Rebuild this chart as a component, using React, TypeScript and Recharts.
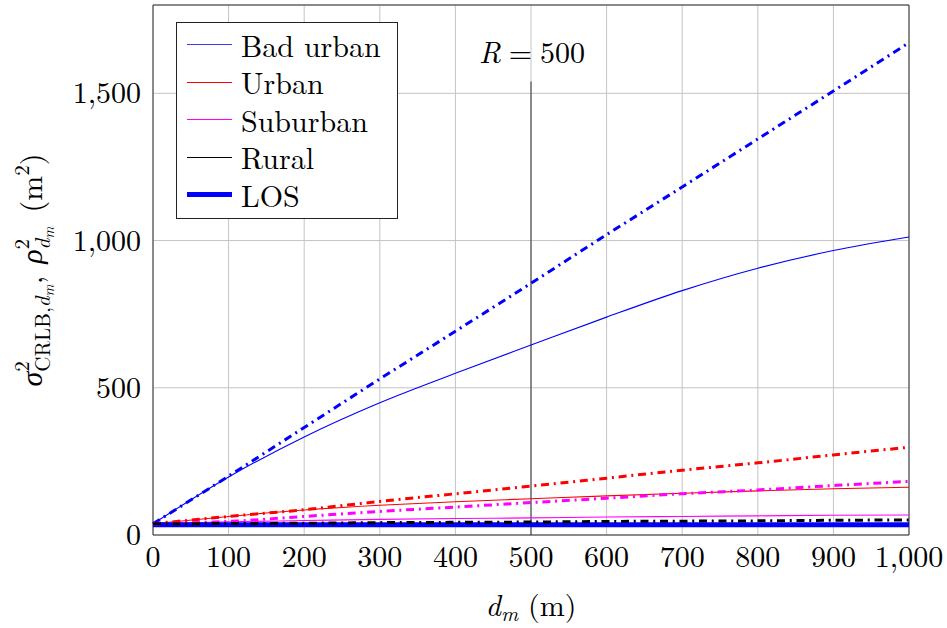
import React from 'react';
import {
  LineChart,
  Line,
  XAxis,
  YAxis,
  CartesianGrid,
  ReferenceLine,
  ReferenceArea,
  ReferenceDot,
  Legend,
} from 'recharts';

const FONT = 'Latin Modern Roman';

// distance d_m (m)
const DISTANCES = [0, 100, 200, 300, 400, 500, 600, 700, 800, 900, 1000];

// solid lines: sigma^2 CRLB
const BAD_URBAN_CRLB = [38, 197, 333, 449, 549, 645, 740, 830, 906, 966, 1012];
const URBAN_CRLB = [38, 63, 85, 101, 113, 123, 133, 142, 150, 157, 162];
const SUBURBAN_CRLB = [38, 45, 49, 53, 56, 58, 61, 63, 65, 67, 68];
const RURAL_CRLB = [36, 36, 37, 37, 37, 37, 37, 38, 38, 38, 38];
const LOS_CRLB = [35, 35, 35, 35, 35, 35, 35, 35, 35, 35, 35];

// dash-dotted lines: rho^2
const BAD_URBAN_RHO = [38, 200, 365, 530, 692, 855, 1020, 1182, 1345, 1508, 1672];
const URBAN_RHO = [38, 63, 86, 114, 140, 166, 193, 220, 245, 272, 298];
const SUBURBAN_RHO = [38, 46, 63, 80, 95, 110, 125, 140, 153, 168, 182];
const RURAL_RHO = [38, 39, 40, 42, 43, 44, 46, 47, 48, 50, 51];

const X_TICKS = [0, 100, 200, 300, 400, 500, 600, 700, 800, 900, 1000];
const Y_TICKS = [0, 500, 1000, 1500];
const LEGEND_LABELS = ['Bad urban', 'Urban', 'Suburban', 'Rural', 'LOS'];
const R_VALUE = 500;

const data = DISTANCES.map((d, i) => ({
  d,
  badUrban: BAD_URBAN_CRLB[i],
  urban: URBAN_CRLB[i],
  suburban: SUBURBAN_CRLB[i],
  rural: RURAL_CRLB[i],
  los: LOS_CRLB[i],
  badUrbanRho: BAD_URBAN_RHO[i],
  urbanRho: URBAN_RHO[i],
  suburbanRho: SUBURBAN_RHO[i],
  ruralRho: RURAL_RHO[i],
}));

const DASHDOT = '8 4.75 2 4.75';

const SERIES = [
  { key: 'badUrban', color: '#0000ff', width: 1.1, dash: undefined },
  { key: 'urban', color: '#ff0000', width: 1.1, dash: undefined },
  { key: 'suburban', color: '#ff00ff', width: 1.1, dash: undefined },
  { key: 'rural', color: '#000000', width: 1.1, dash: undefined },
  { key: 'los', color: '#0000ff', width: 5, dash: undefined },
  { key: 'badUrbanRho', color: '#0000ff', width: 3, dash: DASHDOT },
  { key: 'urbanRho', color: '#ff0000', width: 3, dash: DASHDOT },
  { key: 'suburbanRho', color: '#ff00ff', width: 3, dash: DASHDOT },
  { key: 'ruralRho', color: '#000000', width: 3, dash: DASHDOT },
];

const fmt = (v: number) => v.toLocaleString('en-US');

const XTick = (props: any) => {
  const { x, y, payload } = props;
  return (
    <text x={x} y={y + 32} textAnchor="middle" fontFamily={FONT} fontSize={30} fill="#000">
      {fmt(payload.value)}
    </text>
  );
};

const YTick = (props: any) => {
  const { x, y, payload } = props;
  return (
    <text x={x - 12} y={y + 10} textAnchor="end" fontFamily={FONT} fontSize={30} fill="#000">
      {fmt(payload.value)}
    </text>
  );
};

const XLabel = (props: any) => {
  const vb = props.viewBox || { x: 153, y: 535, width: 756, height: 93 };
  const cx = vb.x + vb.width / 2;
  const cy = vb.y + 81;
  return (
    <text x={cx} y={cy} textAnchor="middle" fontFamily={FONT} fontSize={30} fill="#000">
      <tspan fontStyle="italic">d</tspan>
      <tspan fontStyle="italic" fontSize={21} dy={5}>m</tspan>
      <tspan dy={-5} dx={10}>(m)</tspan>
    </text>
  );
};

const YLabel = (props: any) => {
  const vb = props.viewBox || { x: 0, y: 5, width: 153, height: 530 };
  const cx = vb.x + 42;
  const cy = vb.y + vb.height / 2;
  return (
    <text
      x={cx}
      y={cy}
      transform={`rotate(-90 ${cx} ${cy})`}
      textAnchor="middle"
      fontFamily={FONT}
      fontSize={30}
      fill="#000"
    >
      <tspan fontStyle="italic">σ</tspan>
      <tspan fontSize={21} dy={-13}>2</tspan>
      <tspan fontSize={21} dx={-10.5} dy={21}>CRLB,</tspan>
      <tspan fontSize={21} fontStyle="italic">d</tspan>
      <tspan fontSize={15} fontStyle="italic" dy={4}>m</tspan>
      <tspan dy={-12}>,</tspan>
      <tspan fontStyle="italic" dx={12}>ρ</tspan>
      <tspan fontSize={21} dy={-13}>2</tspan>
      <tspan fontSize={21} fontStyle="italic" dx={-10.5} dy={21}>d</tspan>
      <tspan fontSize={15} fontStyle="italic" dy={4}>m</tspan>
      <tspan dy={-12} dx={14}>(m</tspan>
      <tspan fontSize={21} dy={-13}>2</tspan>
      <tspan dy={13}>)</tspan>
    </text>
  );
};

const RLabel = (props: any) => {
  const vb = props.viewBox || { x: 531, y: 64, width: 0, height: 0 };
  const cx = vb.x + vb.width / 2 + 1;
  const cy = vb.y + vb.height / 2;
  return (
    <text x={cx} y={cy} textAnchor="middle" fontFamily={FONT} fontSize={30} fill="#000">
      <tspan fontStyle="italic">R</tspan>
      <tspan dx={8}>=</tspan>
      <tspan dx={8}>{R_VALUE}</tspan>
    </text>
  );
};

const LEGEND_STYLE = [
  { color: '#3a3aff', h: 1 },
  { color: '#ff0000', h: 1 },
  { color: '#ff00ff', h: 1 },
  { color: '#000000', h: 1 },
  { color: '#0000ff', h: 5 },
];

const renderLegend = () => (
  <div
    style={{
      boxSizing: 'border-box',
      width: 222,
      height: 197,
      border: '1px solid #222',
      background: '#fff',
      paddingTop: 3,
    }}
  >
    {LEGEND_LABELS.map((label, i) => (
      <div key={label} style={{ height: 37.5, display: 'flex', alignItems: 'center' }}>
        <div
          style={{
            marginLeft: 10,
            width: 45,
            height: LEGEND_STYLE[i].h,
            background: LEGEND_STYLE[i].color,
          }}
        />
        <span
          style={{
            marginLeft: 9,
            fontFamily: FONT,
            fontSize: 30,
            lineHeight: '30px',
            color: '#000',
            whiteSpace: 'nowrap',
          }}
        >
          {label}
        </span>
      </div>
    ))}
  </div>
);

export default function App() {
  return (
    <div style={{ position: 'absolute', left: 0, top: 0, width: 947, height: 628, background: '#fff' }}>
      <LineChart
        width={947}
        height={628}
        data={data}
        margin={{ top: 5, right: 38, bottom: 0, left: 0 }}
      >
        <CartesianGrid stroke="#c4c4c4" strokeWidth={1} />
        <XAxis
          dataKey="d"
          type="number"
          domain={[0, 1000]}
          ticks={X_TICKS}
          interval={0}
          height={93}
          tickSize={0}
          tickMargin={0}
          axisLine={false}
          tickLine={false}
          tick={<XTick />}
          label={<XLabel />}
        />
        <YAxis
          type="number"
          domain={[0, 1800]}
          ticks={Y_TICKS}
          interval={0}
          width={153}
          tickSize={0}
          tickMargin={0}
          axisLine={false}
          tickLine={false}
          tick={<YTick />}
          label={<YLabel />}
        />
        <ReferenceArea
          x1={0}
          x2={1000}
          y1={0}
          y2={1800}
          fill="none"
          fillOpacity={0}
          stroke="#333"
          strokeWidth={1}
        />
        <ReferenceLine
          segment={[
            { x: R_VALUE, y: 0 },
            { x: R_VALUE, y: 1540 },
          ]}
          stroke="#333"
          strokeWidth={1}
        />
        <ReferenceDot x={R_VALUE} y={1603} r={0} fill="none" stroke="none" label={<RLabel />} />
        {SERIES.map((s) => (
          <Line
            key={s.key}
            dataKey={s.key}
            type="monotone"
            stroke={s.color}
            strokeWidth={s.width}
            strokeDasharray={s.dash}
            dot={false}
            activeDot={false}
            legendType="none"
            isAnimationActive={false}
          />
        ))}
        <Legend
          content={renderLegend}
          layout="horizontal"
          verticalAlign="middle"
          align="center"
          wrapperStyle={{ left: 176, top: 22, width: 222, height: 197 }}
        />
      </LineChart>
    </div>
  );
}
